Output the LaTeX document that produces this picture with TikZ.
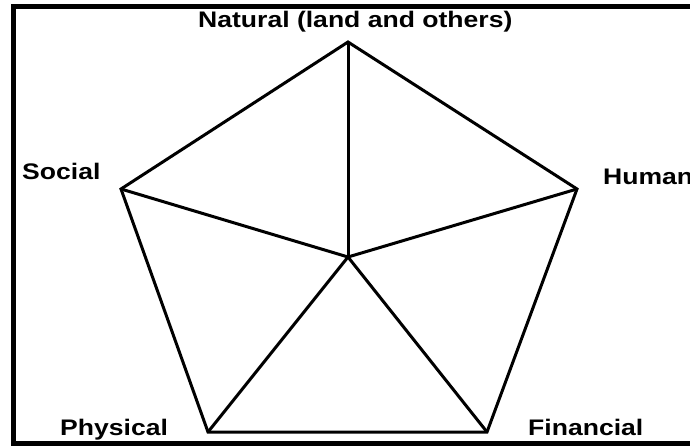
\documentclass[tikz,border=0pt]{standalone}
\usepackage{fontspec}
\newfontfamily\lblfont[FakeStretch=1.18]{Liberation Sans}
\usetikzlibrary{positioning}

\begin{document}
\begin{tikzpicture}[
  x=1pt, y=-1pt,
  font=\lblfont\bfseries\fontsize{22.5}{24}\selectfont,
  lbl/.style={anchor=base west, inner sep=0pt},
  edge/.style={line width=3pt, line join=miter},
  frame/.style={line width=5pt}
]
\useasboundingbox (0,0) rectangle (690,446);
% outer frame (right side falls off the page)
\draw[frame] (700,7) -- (13,7) -- (13,443) -- (700,443);
% corners of the pentagon and its centre
\coordinate (nat) at (348,42);
\coordinate (hum) at (577,189);
\coordinate (fin) at (487,432);
\coordinate (phy) at (208,432);
\coordinate (soc) at (121,189);
\coordinate (ctr) at (348,257);
\draw[edge] (nat) -- (hum) -- (fin) -- (phy) -- (soc) -- cycle;
\foreach \v in {nat,hum,fin,phy,soc}
  \draw[edge] (ctr) -- (\v);
% labels
\node[lbl] (natlbl) at (198,28) {Natural (land and others)};
\node[lbl] (humlbl) at (603,185) {Human};
\node[lbl] (finlbl) at (528,435) {Financial};
\node[lbl] (phylbl) at (60,435) {Physical};
\node[lbl] (soclbl) at (22,180) {Social};
\end{tikzpicture}
\end{document}
